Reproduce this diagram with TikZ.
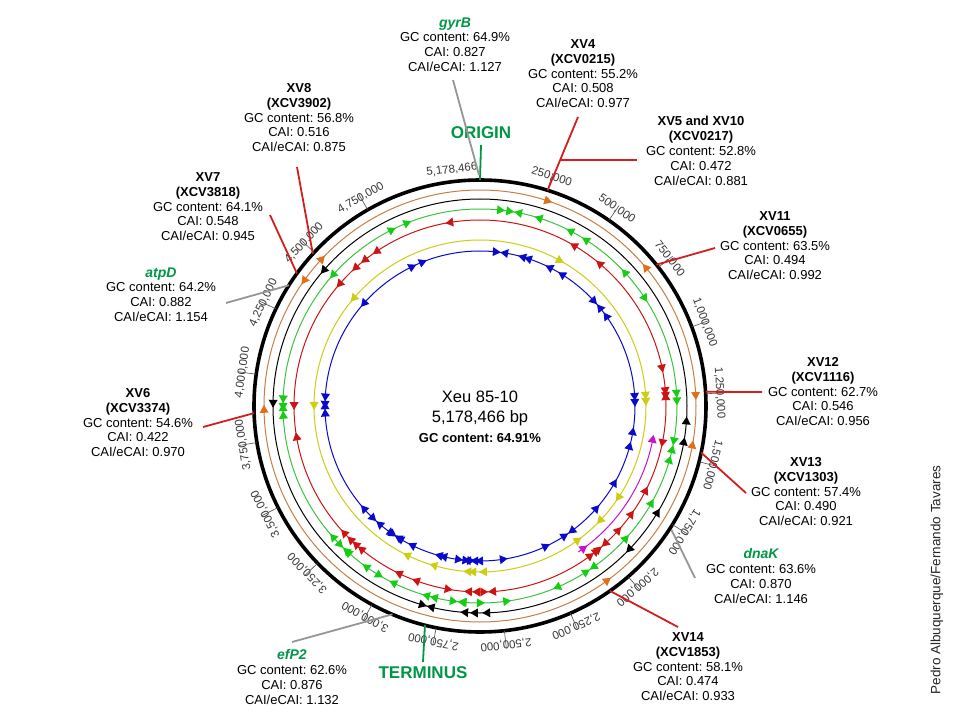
\documentclass[tikz,border=0pt]{standalone}
\usepackage{fontspec}
\setmainfont{Liberation Sans}
\frenchspacing
\definecolor{cO}{RGB}{200,125,70}
\definecolor{cOt}{RGB}{225,110,25}
\definecolor{cG}{RGB}{60,195,60}
\definecolor{cGt}{RGB}{20,205,20}
\definecolor{cR}{RGB}{205,20,20}
\definecolor{cY}{RGB}{205,205,20}
\definecolor{cB}{RGB}{10,10,205}
\definecolor{cM}{RGB}{200,20,200}
\definecolor{lred}{RGB}{210,30,30}
\definecolor{lgrey}{RGB}{150,150,150}
\definecolor{tgreen}{RGB}{0,150,70}
\newcommand\Fc[3]{\fill[#3] ({#2}:{#1+4.5}) -- ({#2}:{#1-4.5}) -- ({#2-450/#1}:{#1}) -- cycle;}
\newcommand\Fa[3]{\fill[#3] ({#2}:{#1+4.5}) -- ({#2}:{#1-4.5}) -- ({#2+450/#1}:{#1}) -- cycle;}
\newcommand\Fb[3]{\Fc{#1}{#2+450/#1}{#3}\Fa{#1}{#2-450/#1}{#3}}
\begin{document}
\begin{tikzpicture}[x=1pt,y=1pt,
  lab/.style={align=center,font=\fontsize{13}{14.8}\selectfont,inner sep=0pt,anchor=north},
  ticklab/.style={font=\fontsize{11.5}{12}\selectfont,text=black!78,inner sep=0pt},
  tickline/.style={black!70,line width=0.6pt},
  redline/.style={draw=lred,line width=1.8pt},
  greyline/.style={draw=lgrey,line width=1.8pt},
  greenline/.style={draw=tgreen,line width=1.8pt},
  ring/.style={line width=1pt},
]
\useasboundingbox (-480,-314) rectangle (480,406);
\fill[white] (-480,-314) rectangle (480,406);

% rings
\draw[ring,cO] (0,0) circle (216);
\draw[ring,black] (0,0) circle (207);
\draw[ring,cG] (0,0) circle (197);
\draw[ring,cR] (0,0) circle (186);
\draw[ring,cY] (0,0) circle (166);
\draw[ring,cB] (0,0) circle (155);
\draw[ring,cM] (-11:176) arc (-11:-56:176);
\draw[line width=3.6pt] (0,0) circle (226);

% ticks and tick labels
\foreach \k/\t in {1/{250,000},2/{500,000},3/{750,000},4/{1,000,000},5/{1,250,000},6/{1,500,000},7/{1,750,000},8/{2,000,000},9/{2,250,000},10/{2,500,000},11/{2,750,000},12/{3,000,000},13/{3,250,000},14/{3,500,000},15/{3,750,000},16/{4,000,000},17/{4,250,000},18/{4,500,000},19/{4,750,000}}{
  \pgfmathsetmacro\ang{90-\k*17.37967}
  \node[ticklab,rotate=\ang-90] (tk\k) at (\ang:240) {\t};
  \draw[tickline] (\ang:226) -- (\ang:244);
}
\node[ticklab,rotate=6.8] (tkend) at (96.8:238) {5,178,466};

% blue
\Fc{155}{117.2}{cB}\Fc{155}{113}{cB}\Fa{155}{137.3}{cB}
\Fc{155}{85.2}{cB}\Fa{155}{79.6}{cB}\Fa{155}{72.8}{cB}\Fa{155}{70.6}{cB}\Fa{155}{62.1}{cB}\Fa{155}{56.8}{cB}\Fb{155}{41}{cB}\Fa{155}{34.2}{cB}
\Fc{155}{4.8}{cB}\Fc{155}{2.6}{cB}
\Fa{155}{-10.8}{cB}\Fa{155}{-16.3}{cB}\Fa{155}{-31}{cB}\Fa{155}{-42.6}{cB}\Fb{155}{-55.3}{cB}\Fa{155}{-66.1}{cB}\Fa{155}{-82.6}{cB}
\Fb{155}{-91.8}{cB}\Fb{155}{-93.6}{cB}\Fb{155}{-96.3}{cB}\Fc{155}{-102.3}{cB}\Fc{155}{-104}{cB}\Fc{155}{-114.7}{cB}
\Fb{155}{-123.4}{cB}\Fb{155}{-122.6}{cB}\Fb{155}{-132}{cB}\Fc{155}{-137.3}{cB}
\Fb{155}{178.3}{cB}\Fb{155}{181}{cB}
% yellow
\Fa{166}{138.4}{cY}\Fc{166}{62.4}{cY}\Fc{166}{4.9}{cY}\Fc{166}{2.8}{cY}\Fc{166}{-32.3}{cY}\Fc{166}{-42.5}{cY}\Fa{166}{-55.1}{cY}
\Fc{166}{-87.6}{cY}\Fc{166}{-91.3}{cY}\Fc{166}{-93}{cY}\Fc{166}{-105}{cY}\Fc{166}{-114.9}{cY}\Fa{166}{178.6}{cY}
% magenta
\Fa{176}{-12}{cM}\Fa{176}{-55}{cM}
% red
\Fa{186}{98.3}{cR}\Fa{186}{122.8}{cR}\Fa{186}{127.3}{cR}\Fa{186}{131}{cR}\Fa{186}{138}{cR}\Fa{186}{58.6}{cR}\Fa{186}{48.9}{cR}
\Fc{186}{12.8}{cR}\Fc{186}{5.8}{cR}\Fc{186}{4.3}{cR}\Fa{186}{1.8}{cR}
\Fc{186}{-10.3}{cR}\Fa{186}{-28.1}{cR}\Fa{186}{-36.6}{cR}\Fa{186}{-43}{cR}\Fb{186}{-49.1}{cR}\Fa{186}{-52.4}{cR}\Fa{186}{-54.7}{cR}
\Fb{186}{-87.5}{cR}\Fc{186}{-90}{cR}\Fc{186}{-92.5}{cR}\Fa{186}{-100.9}{cR}\Fc{186}{-109}{cR}\Fc{186}{-114.8}{cR}
\Fc{186}{-128.6}{cR}\Fc{186}{-130.8}{cR}\Fc{186}{-133}{cR}\Fc{186}{-135.9}{cR}\Fc{186}{190.6}{cR}\Fa{186}{178.8}{cR}
% green
\Fc{197}{112.7}{cGt}\Fc{197}{117.6}{cGt}\Fa{197}{137.3}{cGt}\Fc{197}{85}{cGt}\Fb{197}{80}{cGt}\Fa{197}{71.6}{cGt}\Fa{197}{61.7}{cGt}
\Fa{197}{56.5}{cGt}\Fa{197}{41.7}{cGt}\Fc{197}{34.2}{cGt}\Fc{197}{4.7}{cGt}\Fc{197}{2.5}{cGt}
\Fb{197}{-11.5}{cGt}\Fa{197}{-16.9}{cGt}\Fa{197}{-30.5}{cGt}\Fa{197}{-43.2}{cGt}\Fb{197}{-56.1}{cGt}\Fc{197}{-65.9}{cGt}\Fa{197}{-83.2}{cGt}
\Fa{197}{-90.9}{cGt}\Fc{197}{-93.9}{cGt}\Fb{197}{-96.5}{cGt}\Fc{197}{-102.4}{cGt}\Fc{197}{-104.8}{cGt}\Fc{197}{-115.1}{cGt}
\Fa{197}{-121.8}{cGt}\Fc{197}{-124.3}{cGt}\Fc{197}{-131}{cGt}\Fb{197}{-134}{cGt}\Fc{197}{-137.3}{cGt}\Fb{197}{179.2}{cGt}\Fb{197}{181.4}{cGt}
% black
\Fa{207}{138.1}{black}\Fa{207}{178.3}{black}\Fa{207}{-5.1}{black}\Fa{207}{-10.9}{black}\Fa{207}{-31.9}{black}\Fc{207}{-42.9}{black}
\Fc{207}{-87.2}{black}\Fc{207}{-90.6}{black}\Fc{207}{-93.3}{black}\Fb{207}{-104.9}{black}
% orange
\Fc{216}{72.6}{cOt}\Fa{216}{39}{cOt}\Fc{216}{3.7}{cOt}\Fa{216}{-11.3}{cOt}\Fa{216}{-54.8}{cOt}\Fc{216}{181.8}{cOt}\Fa{216}{143.6}{cOt}\Fc{216}{138}{cOt}

% centre text
\node[font=\fontsize{16.5}{18}\selectfont,inner sep=0pt] (title) at (0,9) {Xeu 85-10};
\node[font=\fontsize{16.5}{18}\selectfont,inner sep=0pt] (size) at (0,-12) {5,178,466 bp};
\node[font=\fontsize{13}{14}\selectfont\bfseries,inner sep=0pt] (gc) at (0,-32) {GC content: 64.91\%};

% origin / terminus
\node[text=tgreen,font=\fontsize{17}{18}\selectfont\bfseries,inner sep=0pt] (origin) at (1,273) {ORIGIN};
\coordinate (oT) at (1,261);
\coordinate (oC) at (90:226);
\draw[greenline] (oT) -- (oC);
\node[text=tgreen,font=\fontsize{17}{18}\selectfont\bfseries,inner sep=0pt] (terminus) at (-57,-267) {TERMINUS};
\coordinate (tC) at (-104.1:226);
\coordinate (tE) at (-57,-256);
\draw[greenline] (tC) -- (tE);

% label blocks
\node[lab] (gyrB) at (-25,388.7) {{\fontsize{14}{15}\selectfont\bfseries\itshape\color{tgreen}gyrB}\\GC content: 64.9\%\\CAI: 0.827\\CAI/eCAI: 1.127};
\node[lab] (XV4) at (103,366.7) {\textbf{XV4}\\\textbf{(XCV0215)}\\GC content: 55.2\%\\CAI: 0.508\\CAI/eCAI: 0.977};
\node[lab] (XV5) at (221,289.7) {\textbf{XV5 and XV10}\\\textbf{(XCV0217)}\\GC content: 52.8\%\\CAI: 0.472\\CAI/eCAI: 0.881};
\node[lab] (XV11) at (295,194.7) {\textbf{XV11}\\\textbf{(XCV0655)}\\GC content: 63.5\%\\CAI: 0.494\\CAI/eCAI: 0.992};
\node[lab] (XV12) at (343,48.7) {\textbf{XV12}\\\textbf{(XCV1116)}\\GC content: 62.7\%\\CAI: 0.546\\CAI/eCAI: 0.956};
\node[lab] (XV13) at (326,-51.3) {\textbf{XV13}\\\textbf{(XCV1303)}\\GC content: 57.4\%\\CAI: 0.490\\CAI/eCAI: 0.921};
\node[lab] (dnaK) at (281,-142.3) {{\fontsize{14}{15}\selectfont\bfseries\itshape\color{tgreen}dnaK}\\GC content: 63.6\%\\CAI: 0.870\\CAI/eCAI: 1.146};
\node[lab] (XV14) at (208,-226.3) {\textbf{XV14}\\\textbf{(XCV1853)}\\GC content: 58.1\%\\CAI: 0.474\\CAI/eCAI: 0.933};
\node[lab] (efP2) at (-188,-243.3) {{\fontsize{14}{15}\selectfont\bfseries\itshape\color{tgreen}efP2}\\GC content: 62.6\%\\CAI: 0.876\\CAI/eCAI: 1.132};
\node[lab] (XV6) at (-342,17.7) {\textbf{XV6}\\\textbf{(XCV3374)}\\GC content: 54.6\%\\CAI: 0.422\\CAI/eCAI: 0.970};
\node[lab] (atpD) at (-319,138.7) {{\fontsize{14}{15}\selectfont\bfseries\itshape\color{tgreen}atpD}\\GC content: 64.2\%\\CAI: 0.882\\CAI/eCAI: 1.154};
\node[lab] (XV7) at (-272,233.7) {\textbf{XV7}\\\textbf{(XCV3818)}\\GC content: 64.1\%\\CAI: 0.548\\CAI/eCAI: 0.945};
\node[lab] (XV8) at (-181,322.7) {\textbf{XV8}\\\textbf{(XCV3902)}\\GC content: 56.8\%\\CAI: 0.516\\CAI/eCAI: 0.875};

% connectors
\coordinate (gyrBc) at (-1,231); \coordinate (gyrBe) at (-27,326);
\draw[greyline] (gyrBe) -- (gyrBc);
\coordinate (XV4c) at (72.6:226); \coordinate (XV4e) at (98,289);
\draw[redline] (XV4c) -- (XV4e);
\coordinate (XV5b) at (80.1,246); \coordinate (XV5e) at (157,246);
\draw[redline] (XV5b) -- (XV5e);
\coordinate (XV11c) at (38.7:226); \coordinate (XV11e) at (235,158);
\draw[redline] (XV11c) -- (XV11e);
\coordinate (XV12c) at (3.6:226); \coordinate (XV12e) at (282,14);
\draw[redline] (XV12c) -- (XV12e);
\coordinate (XV13c) at (-11.9:226); \coordinate (XV13e) at (266,-87);
\draw[redline] (XV13c) -- (XV13e);
\coordinate (dnaKc) at (-32.9:228); \coordinate (dnaKe) at (215,-172);
\draw[greyline] (dnaKc) -- (dnaKe);
\coordinate (XV14c) at (-54.9:226); \coordinate (XV14e) at (198,-221);
\draw[redline] (XV14c) -- (XV14e);
\coordinate (efP2c) at (-112.8:226); \coordinate (efP2e) at (-188,-236);
\draw[greyline] (efP2c) -- (efP2e);
\coordinate (XV6c) at (181.8:226); \coordinate (XV6e) at (-277,-21);
\draw[redline] (XV6c) -- (XV6e);
\coordinate (atpDc) at (147.7:226); \coordinate (atpDe) at (-254,103);
\draw[greyline] (atpDc) -- (atpDe);
\coordinate (XV7c) at (144.1:226); \coordinate (XV7e) at (-210,191);
\draw[redline] (XV7c) -- (XV7e);
\coordinate (XV8c) at (137.7:226); \coordinate (XV8e) at (-183,239);
\draw[redline] (XV8c) -- (XV8e);

% credit
\node[font=\fontsize{13.5}{14}\selectfont,text=black!85,rotate=90,inner sep=0pt] (credit) at (457,-174) {Pedro Albuquerque/Fernando Tavares};
\end{tikzpicture}
\end{document}
